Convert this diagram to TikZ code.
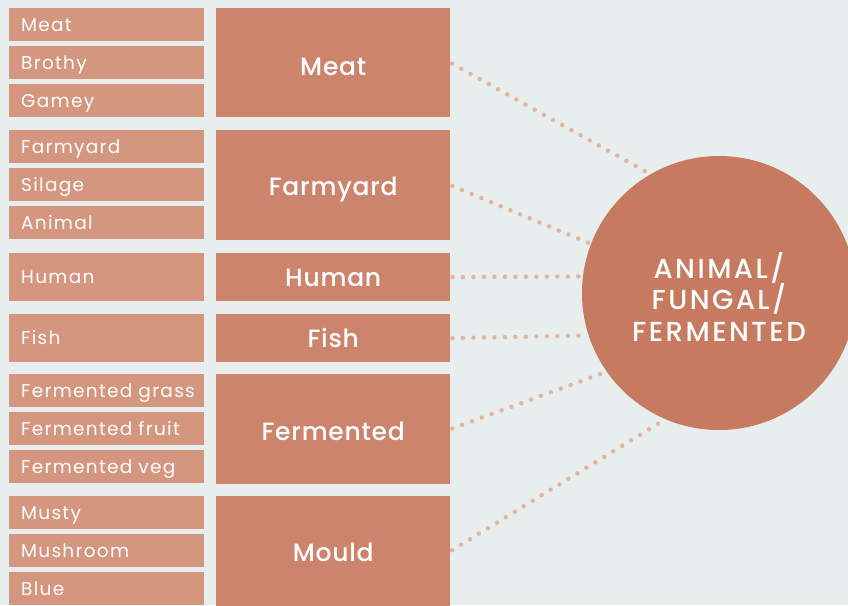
\documentclass[tikz,border=0pt]{standalone}
\usepackage{fontspec}
\setmainfont{Poppins}[BoldFont={Poppins Medium}]
\definecolor{bgc}{HTML}{E8EEEE}
\definecolor{smallc}{HTML}{D4967E}
\definecolor{bigc}{HTML}{CC846C}
\definecolor{circc}{HTML}{C67A5F}
\definecolor{dotc}{HTML}{E4B59C}
\tikzset{
  smallbox/.style={fill=smallc, anchor=north west, minimum width=195pt, inner xsep=6pt, inner ysep=0pt,
    text width=183pt, align=left, text=white, font=\fontsize{18.5}{20}\selectfont\addfontfeatures{LetterSpace=7},
    text height=13.5pt, text depth=0pt, execute at begin node=\hspace*{6pt}},
  bigbox/.style={fill=bigc, anchor=north west, minimum width=234pt, inner sep=0pt, text=white,
    font=\bfseries\fontsize{25}{28}\selectfont\addfontfeatures{LetterSpace=3}, text height=18pt, text depth=0pt},
  dotline/.style={draw=dotc, line width=4.5pt, line cap=round, dash pattern=on 0pt off 10.5pt, shorten <=2pt}
}
\begin{document}
\begin{tikzpicture}[x=1pt,y=-1pt]
\useasboundingbox (0,0) rectangle (848,605);
\fill[bgc] (0,0) rectangle (848,605);
\clip (0,0) rectangle (848,605);
% small boxes
\node[smallbox, minimum height=33pt] (s1) at (9,8) {Meat};
\node[smallbox, minimum height=33pt] (s2) at (9,46) {Brothy};
\node[smallbox, minimum height=33pt] (s3) at (9,84) {Gamey};
\node[smallbox, minimum height=33pt] (s4) at (9,130) {Farmyard};
\node[smallbox, minimum height=33pt] (s5) at (9,168) {Silage};
\node[smallbox, minimum height=33pt] (s6) at (9,206) {Animal};
\node[smallbox, minimum height=48pt] (s7) at (9,253) {Human};
\node[smallbox, minimum height=48pt] (s8) at (9,314) {Fish};
\node[smallbox, minimum height=33pt] (s9) at (9,374) {Fermented grass};
\node[smallbox, minimum height=33pt] (s10) at (9,412) {Fermented fruit};
\node[smallbox, minimum height=33pt] (s11) at (9,450) {Fermented veg};
\node[smallbox, minimum height=33pt] (s12) at (9,496) {Musty};
\node[smallbox, minimum height=33pt] (s13) at (9,534) {Mushroom};
\node[smallbox, minimum height=33pt] (s14) at (9,572) {Blue};
% big boxes
\node[bigbox, minimum height=109pt, text height=25pt] (bmeat) at (216,8) {Meat};
\node[bigbox, minimum height=110pt, text height=21pt] (bfarm) at (216,130) {Farmyard};
\node[bigbox, minimum height=48pt] (bhuman) at (216,253) {Human};
\node[bigbox, minimum height=48pt] (bfish) at (216,314) {Fish};
\node[bigbox, minimum height=110pt, text height=23pt] (bferm) at (216,374) {Fermented};
\node[bigbox, minimum height=110pt, text height=21pt] (bmould) at (216,496) {Mould};
% circle outline reference for connector ends
\node[circle, minimum size=274pt, inner sep=0pt] (circ) at (719,293) {};
\draw[dotline] (bmeat.east) -- (circ.120);
\draw[dotline] (bfarm.east) -- (circ.159.6);
\draw[dotline] (bhuman.east) -- (circ.173.3);
\draw[dotline] (bfish.east) -- (circ.198.6);
\draw[dotline] (bferm.east) -- (circ.215.4);
\draw[dotline] (bmould.east) -- (circ.247.5);
\fill[circc] (circ.center) circle[radius=137pt];
\node[text=white, align=center, font=\bfseries\fontsize{27.5}{31.5}\selectfont\addfontfeatures{LetterSpace=9}] (ctext) at (719,297) {ANIMAL/\\FUNGAL/\\FERMENTED};
\end{tikzpicture}
\end{document}
